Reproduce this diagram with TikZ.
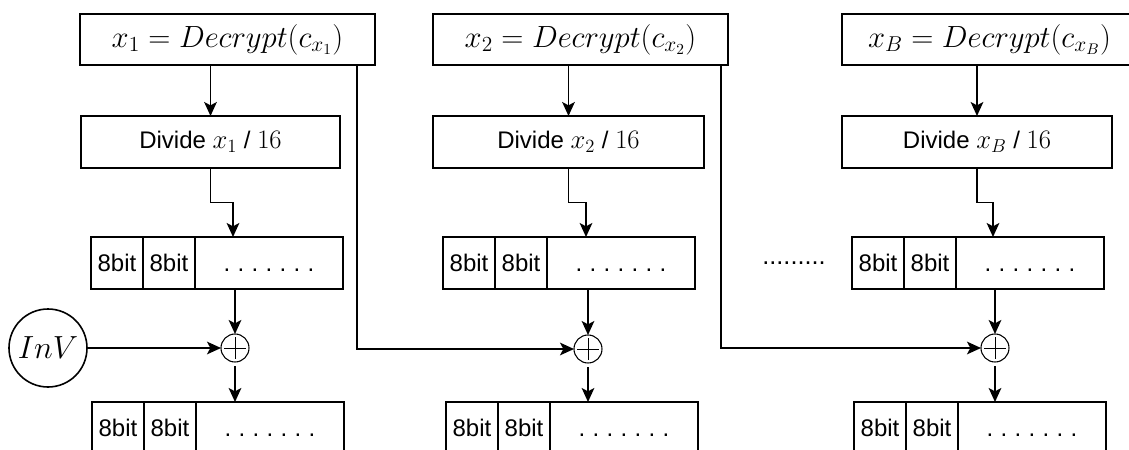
\RequirePackage{fix-cm}
\documentclass[tikz,border=0pt]{standalone}
\usepackage{fontspec}
\newfontfamily\labelfont{Liberation Sans}
\usetikzlibrary{arrows.meta,calc}

% math set a little larger than the surrounding label text
\newcommand\mth[1]{{\fontsize{20}{24}\selectfont$#1$}}
% seven spaced dots standing for the remaining bytes
\newcommand\restdots{\vphantom{b}.\hspace{5.5pt}.\hspace{5.5pt}.\hspace{5.5pt}.\hspace{5.5pt}.\hspace{5.5pt}.\hspace{5.5pt}.}

\tikzset{
  every node/.style={inner sep=0pt, outer sep=0pt},
  box/.style={draw, line width=1.3pt, rectangle, anchor=north west},
  eqbox/.style={box, minimum width=221.25pt, minimum height=38.25pt,
    font=\fontsize{23}{27}\selectfont},
  divbox/.style={box, minimum height=39pt, font=\labelfont\fontsize{18}{22}\selectfont},
  cell/.style={box, minimum height=39pt, font=\labelfont\fontsize{18}{22}\selectfont},
  bytecell/.style={cell, minimum width=39pt},
  restcell/.style={cell, minimum width=111pt},
  xorop/.style={circle, draw, line width=0.8pt, minimum size=21pt,
    path picture={
      \draw[line width=0.7pt]
        ([xshift=-8pt]path picture bounding box.center) -- ([xshift=8pt]path picture bounding box.center)
        ([yshift=-8pt]path picture bounding box.center) -- ([yshift=8pt]path picture bounding box.center);
    }},
  ivnode/.style={circle, draw, line width=1.2pt, minimum size=58.5pt,
    font=\fontsize{24}{28}\selectfont},
  arr/.style={line width=1.3pt, -{Stealth[length=10.5pt,width=9.5pt,inset=2.5pt]}},
}

\begin{document}
\begin{tikzpicture}[x=0.75pt, y=-0.75pt]
\useasboundingbox (0,0) rectangle (1129,450);
\clip (0,0) rectangle (1129,450);

% ---- block 1 ----
\node[eqbox] (top1) at (80,14) {$x_1 = Decrypt(c_{x_1})$};
\node[divbox, minimum width=194.25pt] (div1) at (81,116) {Divide \mth{x_1} / \mth{16}};
\node[bytecell] (r1a) at (91,237) {8bit};
\node[bytecell] (r1b) at (r1a.north east) {8bit};
\node[restcell] (r1c) at (r1b.north east) {\restdots};
\node[xorop] (x1) at (235,348) {};
\node[ivnode] (inv) at (48,348) {$InV$};
\node[bytecell] (b1a) at (92,402) {8bit};
\node[bytecell] (b1b) at (b1a.north east) {8bit};
\node[restcell] (b1c) at (b1b.north east) {\restdots};

% ---- block 2 ----
\node[eqbox] (top2) at (433,14) {$x_2 = Decrypt(c_{x_2})$};
\node[divbox, minimum width=203.25pt] (div2) at (433,116) {Divide \mth{x_2} / \mth{16}};
\node[bytecell] (r2a) at (443,237) {8bit};
\node[bytecell] (r2b) at (r2a.north east) {8bit};
\node[restcell] (r2c) at (r2b.north east) {\restdots};
\node[xorop] (x2) at (588,349) {};
\node[bytecell] (b2a) at (446,402) {8bit};
\node[bytecell] (b2b) at (b2a.north east) {8bit};
\node[restcell] (b2c) at (b2b.north east) {\restdots};

% ---- block B ----
\node[eqbox] (top3) at (842,14) {$x_B = Decrypt(c_{x_B})$};
\node[divbox, minimum width=202.5pt] (div3) at (842,116) {Divide \mth{x_B} / \mth{16}};
\node[bytecell] (r3a) at (852,237) {8bit};
\node[bytecell] (r3b) at (r3a.north east) {8bit};
\node[restcell] (r3c) at (r3b.north east) {\restdots};
\node[xorop] (x3) at (995,348) {};
\node[bytecell] (b3a) at (854,402) {8bit};
\node[bytecell] (b3b) at (b3a.north east) {8bit};
\node[restcell] (b3c) at (b3b.north east) {\restdots};

% elided blocks
\node[font=\labelfont\fontsize{19}{22}\selectfont] (gap) at (794,263) {.........};

% ---- connectors ----
\foreach \i in {1,2,3} {
  \draw[arr] (div\i.north |- top\i.south) -- (div\i.north);
  \draw[arr] (div\i.south) |- ($(div\i.south)!0.5!(x\i |- r\i c.north)$) -| ([xshift=-1.5pt]x\i |- r\i c.north);
  \draw[arr] (x\i |- r\i c.south) -- (x\i.north);
  \draw[arr, shorten <=3pt] (x\i.south) -- (x\i |- b\i c.north);
}
\draw[arr] (inv.east) -- (x1.west);
\draw[arr] ([xshift=-13.5pt]top1.south east) |- (x2.west);
\draw[arr] ([xshift=-5.25pt]top2.south east) |- (x3.west);
\end{tikzpicture}
\end{document}
